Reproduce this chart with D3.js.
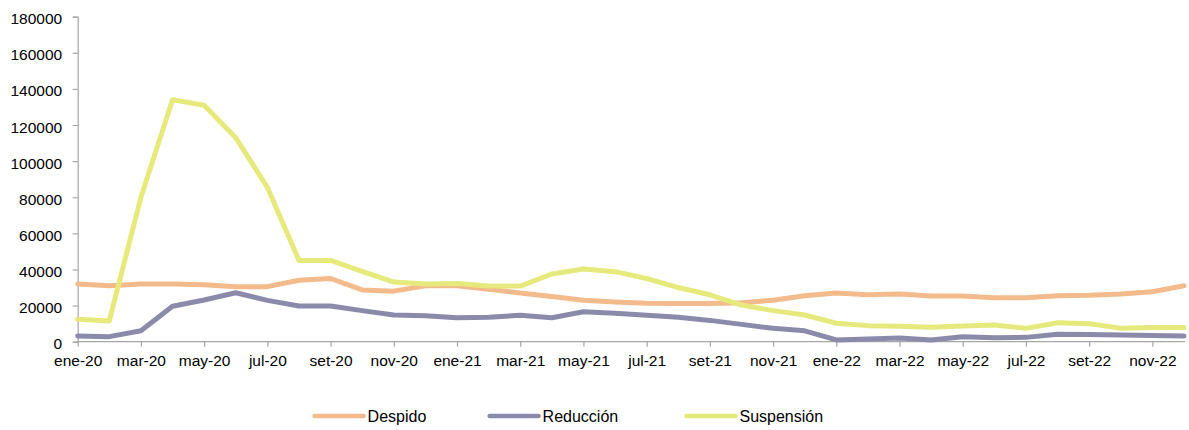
<!DOCTYPE html>
<html><head><meta charset="utf-8">
<script src="https://cdn.jsdelivr.net/npm/d3@7"></script>
<style>body{margin:0;background:#fff}svg{display:block}text{font-family:"Liberation Sans",Arial,sans-serif;fill:#000}</style>
</head><body><svg id="c" width="1189" height="430"></svg>
<script>
const months = ["ene-20","feb-20","mar-20","abr-20","may-20","jun-20","jul-20","ago-20","set-20","oct-20","nov-20","dic-20",
"ene-21","feb-21","mar-21","abr-21","may-21","jun-21","jul-21","ago-21","set-21","oct-21","nov-21","dic-21",
"ene-22","feb-22","mar-22","abr-22","may-22","jun-22","jul-22","ago-22","set-22","oct-22","nov-22","dic-22"];
const despido = [32000,31000,32000,32000,31500,30500,30500,34000,35000,28700,28000,31000,
31000,29000,27000,25000,23000,22000,21300,21100,21100,21600,23000,25500,
27000,26000,26400,25300,25300,24400,24400,25500,25700,26400,27700,31000];
const reduccion = [3200,2800,6100,19600,23100,27100,22900,19800,19800,17200,14800,14400,
13300,13500,14600,13300,16600,15700,14600,13500,11800,9600,7400,6000,
1000,1500,2000,1000,2800,2200,2400,4100,4000,3700,3500,3200];
const suspension = [12500,11500,80000,134000,131000,113000,85500,45000,45000,39000,33000,32000,
32300,30800,30800,37500,40300,38800,35000,30000,26000,20300,17200,14800,
10200,8900,8500,8000,8700,9200,7400,10500,10000,7400,7800,7800];
const seriesNames = ["Despido","Reducción","Suspensión"];
const seriesColors = ["#F3BB8C","#8C8AAB","#E6EA7C"];
const yTicks = [0,20000,40000,60000,80000,100000,120000,140000,160000,180000];

const svg = d3.select("#c");
const x = d3.scalePoint().domain(months).range([77.7,1184]);
const y = d3.scaleLinear().domain([0,180000]).range([341.7,16.7]);
const axisColor = "#a6a6a6";

// y axis
const ya = svg.append("g").attr("transform","translate(77.7,0)")
  .call(d3.axisLeft(y).tickValues(yTicks).tickSize(5).tickPadding(10.5).tickFormat(d3.format("d")));
ya.select(".domain").attr("stroke",axisColor).attr("stroke-width",1.2);
ya.selectAll(".tick line").attr("stroke",axisColor).attr("stroke-width",1.2);
ya.selectAll(".tick text").attr("font-size","15.5px").attr("font-family","Liberation Sans, Arial, sans-serif").attr("fill","#000").attr("dy","0.45em");

// x axis
const xa = svg.append("g").attr("transform","translate(0,341.7)")
  .call(d3.axisBottom(x).tickValues(months.filter((d,i)=>i%2===0)).tickSize(5).tickPadding(8).tickSizeOuter(0));
xa.select(".domain").attr("stroke",axisColor).attr("stroke-width",1.2).attr("d","M77.7,0H1185");
xa.selectAll(".tick line").attr("stroke",axisColor).attr("stroke-width",1.2);
xa.selectAll(".tick text").attr("font-size","15.5px").attr("font-family","Liberation Sans, Arial, sans-serif").attr("fill","#000");

const data = [despido,reduccion,suspension];
const line = d3.line().x((d,i)=>x(months[i])).y(d=>y(d));
data.forEach((s,k)=>{
  svg.append("path").datum(s).attr("d",line).attr("fill","none")
    .attr("stroke",seriesColors[k]).attr("stroke-width",5).attr("stroke-linejoin","round").attr("stroke-linecap","round");
});

// legend
const legX = [314.6,489.6,686.5];
const legY = 416;
seriesNames.forEach((n,k)=>{
  svg.append("line").attr("x1",legX[k]).attr("x2",legX[k]+49).attr("y1",legY).attr("y2",legY)
    .attr("stroke",seriesColors[k]).attr("stroke-width",4.5).attr("stroke-linecap","round");
  svg.append("text").attr("x",legX[k]+53).attr("y",legY).attr("dy","0.36em")
    .attr("font-size","16px").text(n);
});
</script></body></html>
